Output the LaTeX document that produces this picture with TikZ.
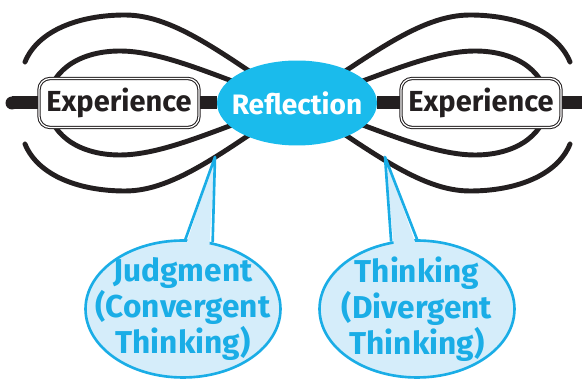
\documentclass[tikz,border=0pt]{standalone}
\usepackage{fontspec}
\setmainfont{Fira Sans}
\usepackage{tikz}
\usetikzlibrary{shapes,calc,backgrounds}
\definecolor{refcyan}{HTML}{1ABBEC}
\definecolor{callcyan}{HTML}{1AADE6}
\definecolor{callfill}{HTML}{D5EDFA}
\definecolor{darkline}{HTML}{231F20}
\tikzstyle{expbox} = [rectangle, rounded corners=0.22cm, draw=darkline, fill=white,
                     line width=0.6pt, double=white, double distance=0.7pt,
                     minimum width=3.2cm, minimum height=0.98cm, inner sep=0pt,
                     text=darkline, font=\bfseries\fontsize{16.5}{19}\selectfont]
\tikzstyle{reflect} = [ellipse, fill=refcyan, draw=none, text=white,
                     minimum width=3.2cm, minimum height=1.7cm,
                     inner xsep=-0.35cm, inner ysep=-0.2cm,
                     font=\bfseries\fontsize{16}{19}\selectfont]
\tikzstyle{callout} = [ellipse, fill=callfill, draw=callcyan, line width=1.5pt,
                     text=callcyan, align=center, inner xsep=-0.4cm, inner ysep=-3pt,
                     minimum width=3.9cm, minimum height=2.74cm,
                     font=\bfseries\fontsize{18}{18.6}\selectfont]

\begin{document}
\begin{tikzpicture}[x=0.02cm, y=-0.02cm,
bar/.style={draw=darkline, line width=0.26cm},
curve/.style={draw=darkline, line width=2.8pt, line cap=round},
callline/.style={draw=callcyan, line width=1.5pt, line join=round}]
\useasboundingbox (0,0) rectangle (582,381);

%Experience and Reflection
\node[expbox] at (119,103) (expL){Experience};
\node[expbox] at (481,103) (expR){Experience};
\node[reflect] at (297,103) (refl){Reflection};

%free ends
\coordinate (barL) at (12,103);
\coordinate (barR) at (600,103);
\coordinate (olt) at (25,62);
\coordinate (olb) at (25,144);
\coordinate (ort) at (570,62);
\coordinate (orb) at (570,144);
\coordinate (tipJ) at (215,157);
\coordinate (tipT) at (385,157);

\begin{scope}[on background layer]
% Bar
\draw[bar] (barL) -- (expL);
\draw[bar] (expL) -- (refl);
\draw[bar] (refl) -- (expR);
\draw[bar] (expR) -- (barR);
\fill[darkline] (barL) circle (6.5);
% Outer curves
\draw[curve] (olt) .. controls (38,30) and (80,15) .. (125,15) .. controls (175,15) and (225,56) .. (refl.center);
\draw[curve] (olb) .. controls (38,176) and (80,191) .. (125,191) .. controls (175,191) and (225,150) .. (refl.center);
\draw[curve] (ort) .. controls (557,30) and (515,15) .. (470,15) .. controls (420,15) and (370,56) .. (refl.center);
\draw[curve] (orb) .. controls (557,176) and (515,191) .. (470,191) .. controls (420,191) and (370,150) .. (refl.center);
% Inner loops
\draw[curve] (refl.center) .. controls (235,86) and (170,51) .. (120,51) .. controls (75,51) and (48,75) .. (48,103)
  .. controls (48,131) and (75,155) .. (120,155) .. controls (170,155) and (235,120) .. (refl.center);
\draw[curve] (refl.center) .. controls (360,86) and (425,51) .. (475,51) .. controls (520,51) and (547,75) .. (547,103)
  .. controls (547,131) and (520,155) .. (475,155) .. controls (425,155) and (360,120) .. (refl.center);
\end{scope}

% Callouts
\node[callout] at (183,309) (judg){Judgment\\(Convergent\\Thinking)};
\node[callout] at (417,309) (think){Thinking\\(Divergent\\Thinking)};
\fill[callfill] (tipJ) -- ($(judg.88)!0.12!(judg.center)$) -- ($(judg.66)!0.12!(judg.center)$) -- cycle;
\draw[callline] (judg.88) -- (tipJ) -- (judg.66);
\fill[callfill] (tipT) -- ($(think.111)!0.12!(think.center)$) -- ($(think.90)!0.12!(think.center)$) -- cycle;
\draw[callline] (think.111) -- (tipT) -- (think.90);
\end{tikzpicture}
\end{document}
